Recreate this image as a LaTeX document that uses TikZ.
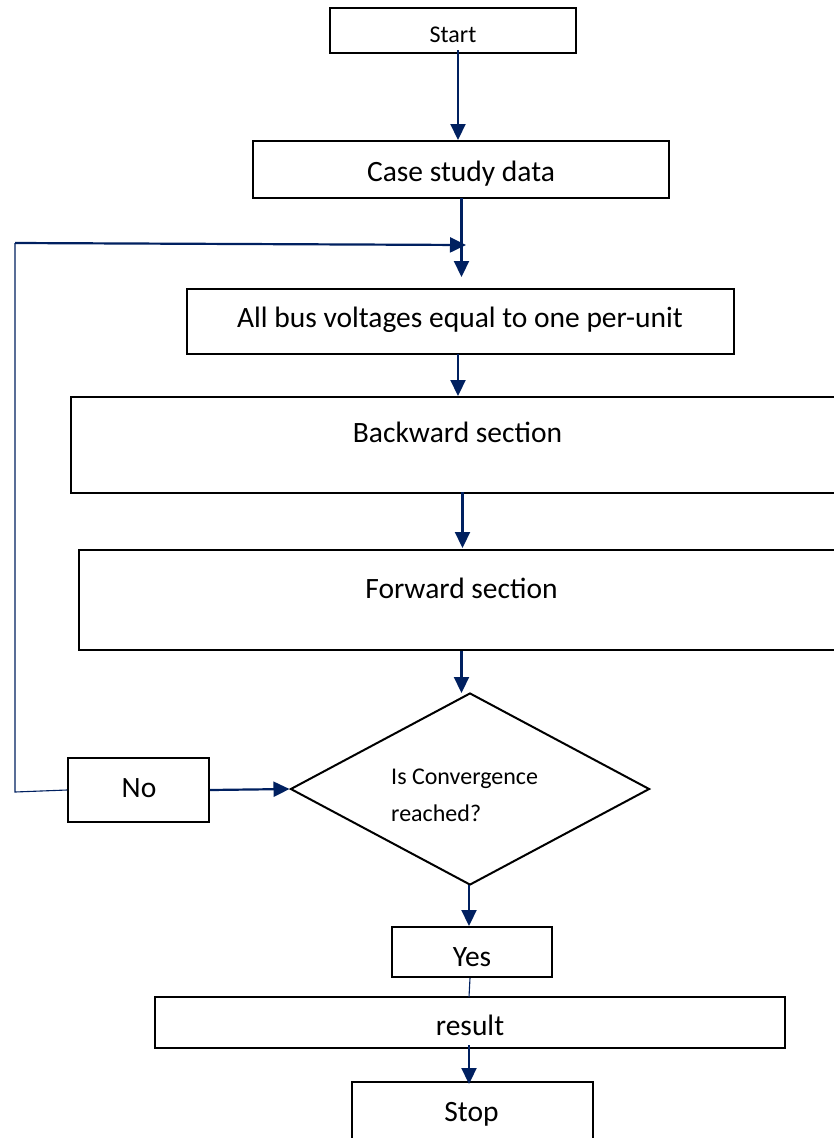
\documentclass[tikz,border=0pt]{standalone}
\usepackage{fontspec}
\setmainfont{Carlito}
\usetikzlibrary{arrows.meta,shapes.geometric}
\definecolor{navy}{RGB}{0,32,96}
\begin{document}
\begin{tikzpicture}[x=1pt,y=-1pt,
  box/.style={draw=black,line width=2pt,inner sep=0pt,rectangle},
  lbl/.style={anchor=base,inner sep=0pt,font=\fontsize{29.5}{34}\selectfont},
  small/.style={font=\fontsize{24}{28}\selectfont},
  flow/.style={draw=navy,line width=2.2pt,-{Triangle[width=15pt,length=16pt]}},
  thinline/.style={draw=navy,line width=1.1pt},
]
\useasboundingbox (0,0) rectangle (834,1138);

% boxes
\node[box,minimum width=246pt,minimum height=45pt] (start) at (453,30.5) {};
\node[box,minimum width=416pt,minimum height=57pt] (case) at (461,169.5) {};
\node[box,minimum width=547pt,minimum height=65pt] (bus) at (460.5,321) {};
\node[box,minimum width=780pt,minimum height=96pt] (back) at (461,444.5) {};
\node[box,minimum width=770pt,minimum height=100pt] (fwd) at (464,600) {};
\node[box,diamond,minimum width=359pt,minimum height=192pt] (conv) at (470,789) {};
\node[box,minimum width=141pt,minimum height=64pt] (no) at (138.5,790) {};
\node[box,minimum width=160pt,minimum height=50pt] (yes) at (472,952) {};
\node[box,minimum width=630pt,minimum height=51pt] (result) at (470,1022) {};
\node[box,minimum width=241pt,minimum height=80pt] (stop) at (472.5,1122) {};

% texts
\node[lbl,small] (tstart) at (453,42) {Start};
\node[lbl] (tcase) at (461,181) {Case study data};
\node[lbl] (tbus) at (460,327) {All bus voltages equal to one per-unit};
\node[lbl] (tback) at (457.5,442) {Backward section};
\node[lbl] (tfwd) at (461.5,598) {Forward section};
\node[anchor=base west,inner sep=0pt,small,align=left] (tconv) at (391,821)
  {Is Convergence\\[9pt]reached?};
\node[lbl] (tno) at (139,797) {No};
\node[lbl] (tyes) at (472,966) {Yes};
\node[lbl] (tresult) at (470,1035) {result};
\node[lbl] (tstop) at (471.5,1121) {Stop};

% connector end points
\coordinate (a1) at (458,50);
\coordinate (a1e) at (458,140);
\coordinate (a2) at (461.5,198);
\coordinate (a2e) at (461.5,277);
\coordinate (fbl) at (15,792);
\coordinate (fbt) at (15,243);
\coordinate (fbe) at (466,245);
\coordinate (a3) at (458,354);
\coordinate (a3e) at (458,396);
\coordinate (a4) at (462.5,492);
\coordinate (a4e) at (462.5,548);
\coordinate (a5) at (461.5,651);
\coordinate (a5e) at (461.5,693);
\coordinate (a7) at (469,885);
\coordinate (a7e) at (469,926);
\coordinate (y1) at (470,978);
\coordinate (y2) at (469,997);
\coordinate (a8) at (469,1045);
\coordinate (a8e) at (469,1084);

% connectors
\draw[flow] (a1) -- (a1e);
\draw[flow] (a2) -- (a2e);
\draw[thinline] (no.west) -- (fbl) -- (fbt);
\draw[flow] (fbt) -- (fbe);
\draw[flow] (a3) -- (a3e);
\draw[flow] (a4) -- (a4e);
\draw[flow] (a5) -- (a5e);
\draw[flow] (no.east) -- (conv.west);
\draw[flow] (a7) -- (a7e);
\draw[thinline] (y1) -- (y2);
\draw[flow] (a8) -- (a8e);
\end{tikzpicture}
\end{document}
